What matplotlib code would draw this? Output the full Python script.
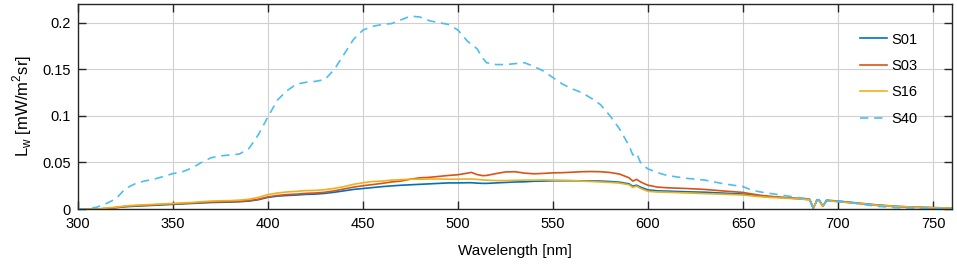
import matplotlib.pyplot as plt

plt.rcParams['font.family'] = ['Liberation Sans', 'DejaVu Sans']
plt.rcParams['mathtext.fontset'] = 'custom'
plt.rcParams['mathtext.rm'] = 'Liberation Sans'

# Longitudes de onda (nm)
wl = [300, 305, 310, 315, 320, 325, 330, 335, 340, 345,
      350, 355, 360, 365, 370, 375, 380, 385, 390, 395,
      400, 405, 410, 415, 420, 425, 430, 435, 440, 445,
      450, 455, 460, 465, 470, 475, 480, 485, 490, 495,
      500, 505, 507, 510, 513, 515, 520, 525, 530, 535,
      540, 545, 550, 555, 560, 565, 570, 575, 580, 585,
      590, 592, 594, 596, 598, 600, 605, 610, 620, 630,
      640, 650, 655, 660, 670, 680, 685, 687, 689, 690,
      692, 694, 700, 710, 720, 730, 740, 750, 760]

s01 = [0, 0, 0, 0.0005, 0.0015, 0.0025, 0.003, 0.0035, 0.004, 0.0045,
       0.005, 0.0055, 0.006, 0.0065, 0.007, 0.0072, 0.0074, 0.0078, 0.0085, 0.010,
       0.0125, 0.0138, 0.0145, 0.015, 0.0157, 0.016, 0.0168, 0.018, 0.0195, 0.021,
       0.022, 0.023, 0.024, 0.0248, 0.0255, 0.026, 0.0265, 0.027, 0.0275, 0.028,
       0.028, 0.0282, 0.0282, 0.0278, 0.0275, 0.0275, 0.028, 0.0285, 0.029, 0.0292,
       0.0298, 0.030, 0.0303, 0.0303, 0.0303, 0.0302, 0.0301, 0.030, 0.0295, 0.0288,
       0.027, 0.0245, 0.0255, 0.0235, 0.022, 0.0205, 0.0195, 0.0192, 0.0185, 0.018,
       0.017, 0.016, 0.015, 0.0138, 0.0125, 0.0112, 0.0105, 0.001, 0.010, 0.0098,
       0.003, 0.0095, 0.0085, 0.0065, 0.0045, 0.003, 0.002, 0.0015, 0.001]

s03 = [0, 0, 0, 0.0005, 0.0015, 0.0028, 0.0035, 0.004, 0.0045, 0.005,
       0.0055, 0.006, 0.0065, 0.007, 0.0075, 0.0078, 0.008, 0.0083, 0.009, 0.0105,
       0.013, 0.0145, 0.0155, 0.016, 0.0168, 0.0172, 0.018, 0.0195, 0.0215, 0.0235,
       0.025, 0.0262, 0.0275, 0.029, 0.030, 0.032, 0.0335, 0.034, 0.035, 0.036,
       0.0368, 0.0385, 0.0393, 0.037, 0.0358, 0.036, 0.038, 0.0398, 0.040, 0.0385,
       0.0378, 0.0382, 0.0388, 0.039, 0.0395, 0.040, 0.0402, 0.040, 0.0392, 0.0375,
       0.0335, 0.030, 0.0318, 0.0292, 0.0272, 0.0255, 0.0235, 0.0228, 0.022, 0.021,
       0.0193, 0.0178, 0.016, 0.0145, 0.0125, 0.0108, 0.010, 0.001, 0.0095, 0.0093,
       0.003, 0.009, 0.008, 0.006, 0.004, 0.0025, 0.0018, 0.0013, 0.001]

s16 = [0, 0, 0, 0.001, 0.002, 0.0033, 0.004, 0.0045, 0.005, 0.0055,
       0.006, 0.0065, 0.007, 0.0078, 0.0085, 0.0088, 0.009, 0.0095, 0.0105, 0.0125,
       0.0155, 0.0172, 0.0183, 0.019, 0.0198, 0.020, 0.0208, 0.0222, 0.024, 0.0265,
       0.0282, 0.0295, 0.030, 0.031, 0.0315, 0.032, 0.032, 0.0322, 0.0322, 0.032,
       0.032, 0.0322, 0.0322, 0.0318, 0.0312, 0.031, 0.0305, 0.0305, 0.0308, 0.031,
       0.031, 0.0312, 0.031, 0.0308, 0.0305, 0.030, 0.0295, 0.029, 0.0285, 0.0278,
       0.026, 0.0232, 0.0245, 0.0222, 0.0205, 0.019, 0.0182, 0.018, 0.0172, 0.0165,
       0.0158, 0.015, 0.014, 0.013, 0.0118, 0.0108, 0.010, 0.001, 0.0095, 0.0093,
       0.003, 0.009, 0.008, 0.0062, 0.0042, 0.0028, 0.002, 0.0014, 0.001]

s40 = [0, 0, 0.002, 0.006, 0.011, 0.022, 0.027, 0.030, 0.032, 0.035,
       0.038, 0.040, 0.044, 0.050, 0.055, 0.057, 0.058, 0.059, 0.065, 0.080,
       0.099, 0.117, 0.127, 0.134, 0.136, 0.137, 0.139, 0.150, 0.166, 0.182,
       0.192, 0.196, 0.198, 0.199, 0.203, 0.207, 0.206, 0.202, 0.200, 0.198,
       0.192, 0.180, 0.177, 0.172, 0.162, 0.157, 0.155, 0.155, 0.156, 0.157,
       0.153, 0.148, 0.141, 0.134, 0.129, 0.125, 0.119, 0.112, 0.100, 0.086,
       0.068, 0.058, 0.060, 0.050, 0.046, 0.043, 0.039, 0.036, 0.033, 0.031,
       0.027, 0.024, 0.020, 0.018, 0.015, 0.012, 0.011, 0.001, 0.010, 0.010,
       0.003, 0.009, 0.0085, 0.006, 0.003, 0.0015, 0.001, 0.0008, 0.0005]

etiquetas = ["S01", "S03", "S16", "S40"]
colores = ["#0072BD", "#D95319", "#EDB120", "#4DBEEE"]
estilos = ["-", "-", "-", "--"]

fig = plt.figure(figsize=(9.57, 2.67), dpi=100)
ax = fig.add_axes([0.0815, 0.2172, 0.9133, 0.7678])

for serie, lab, col, ls in zip([s01, s03, s16, s40], etiquetas, colores, estilos):
    linea, = ax.plot(wl, serie, ls, color=col, lw=1.2, label=lab)
    if ls == "--":
        linea.set_dashes((5, 3.5))

ax.set_xlim(300, 760)
ax.set_ylim(0, 0.22)
ax.set_xticks(range(300, 751, 50))
ax.set_yticks([0, 0.05, 0.1, 0.15, 0.2])
ax.set_yticklabels(["0", "0.05", "0.1", "0.15", "0.2"])
ax.tick_params(direction='in', length=6, width=1, top=True, right=True,
               labelsize=10.5, colors='#262626', labelcolor='black')
ax.tick_params(axis='x', pad=6)
ax.tick_params(axis='y', pad=5)
ax.grid(True, color='#d0d0d0', lw=0.8)
ax.set_axisbelow(True)
for s in ax.spines.values():
    s.set_color('#262626')
    s.set_linewidth(1)

ax.set_xlabel("Wavelength [nm]", fontsize=11, labelpad=9)
ax.set_ylabel(r"L$_\mathrm{w}$ [mW/m$^2$sr]", fontsize=12, labelpad=6)

ax.legend(loc='upper right', bbox_to_anchor=(0.975, 0.925), frameon=False,
          fontsize=10.5, handlelength=1.8, labelspacing=0.85, handletextpad=0.3)

plt.savefig("out.png", dpi=100)
